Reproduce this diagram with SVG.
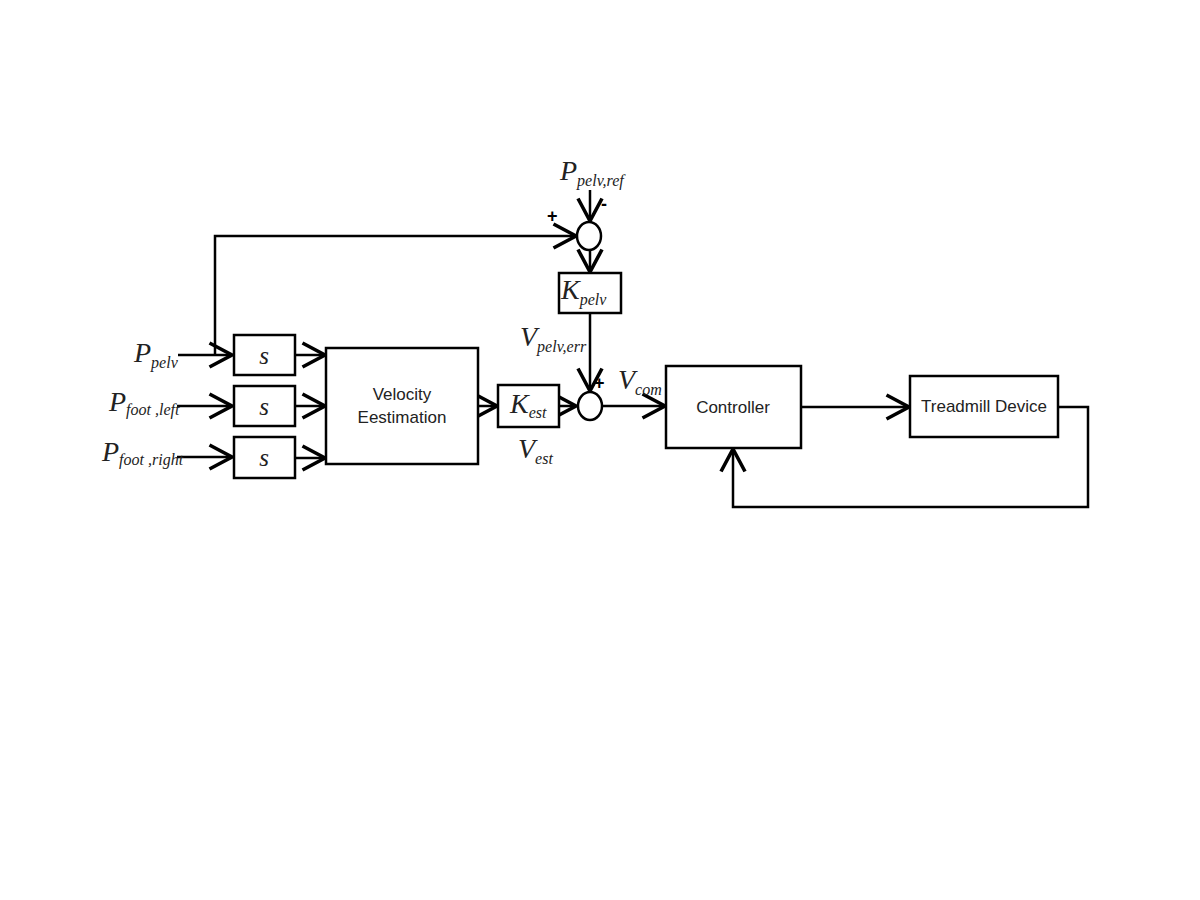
<svg xmlns="http://www.w3.org/2000/svg" width="1200" height="900" viewBox="0 0 1200 900">
<defs>
<marker id="arr" markerUnits="userSpaceOnUse" markerWidth="30" markerHeight="30" viewBox="-17 -10 20 20" refX="0" refY="0" orient="auto">
<path d="M -15 -8 L 0 0 L -15 8" fill="none" stroke="#000" stroke-width="2.4"/>
</marker>
<style>
.b{fill:#fff;stroke:#000;stroke-width:2.5}
.w{fill:none;stroke:#000;stroke-width:2.5}
.t{font-family:"Liberation Sans",Arial,sans-serif;font-size:17px;fill:#222;text-anchor:middle}
.m{font-family:"Liberation Serif","Times New Roman",serif;font-style:italic;fill:#222}
.big{font-size:28px}
.sub{font-size:16px}
.sg{font-family:"Liberation Sans",Arial,sans-serif;font-size:18px;font-weight:bold;fill:#000}
</style>
</defs>
<rect width="1200" height="900" fill="#fff"/>
<g id="connectors">
<path class="w" d="M178 355 H232" marker-end="url(#arr)"/>
<path class="w" d="M215 355 V236 H576" marker-end="url(#arr)"/>
<path class="w" d="M177 406 H232" marker-end="url(#arr)"/>
<path class="w" d="M177 457 H232" marker-end="url(#arr)"/>
<path class="w" d="M295 355 H325" marker-end="url(#arr)"/>
<path class="w" d="M295 406 H325" marker-end="url(#arr)"/>
<path class="w" d="M295 458 H325" marker-end="url(#arr)"/>
<path class="w" d="M478 406 H497" marker-end="url(#arr)"/>
<path class="w" d="M559 406 H576" marker-end="url(#arr)"/>
<path class="w" d="M590 190 V221" marker-end="url(#arr)"/>
<path class="w" d="M590 250 V272" marker-end="url(#arr)"/>
<path class="w" d="M590 313 V391" marker-end="url(#arr)"/>
<path class="w" d="M602 406 H665" marker-end="url(#arr)"/>
<path class="w" d="M801 407 H909" marker-end="url(#arr)"/>
<path class="w" d="M1058 407 H1088 V507 H733 V449" marker-end="url(#arr)"/>
</g>
<g id="s1"><rect class="b" x="234" y="335" width="61" height="40"/><text class="m" x="264" y="364" font-size="25" text-anchor="middle">s</text></g>
<g id="s2"><rect class="b" x="234" y="386" width="61" height="40"/><text class="m" x="264" y="415" font-size="25" text-anchor="middle">s</text></g>
<g id="s3"><rect class="b" x="234" y="437" width="61" height="41"/><text class="m" x="264" y="466" font-size="25" text-anchor="middle">s</text></g>
<g id="velocity"><rect class="b" x="326" y="348" width="152" height="116"/><text class="t" x="402" y="400">Velocity</text><text class="t" x="402" y="423">Eestimation</text></g>
<g id="kest"><rect class="b" x="498" y="385" width="61" height="42"/><text class="m" x="510" y="413"><tspan class="big">K</tspan><tspan class="sub" dy="5">est</tspan></text></g>
<g id="kpelv"><rect class="b" x="559" y="273" width="62" height="40"/><text class="m" x="561" y="299"><tspan class="big">K</tspan><tspan class="sub" dy="6">pelv</tspan></text></g>
<g id="sum1"><ellipse class="b" cx="589" cy="236" rx="12" ry="14"/><text class="sg" x="547" y="222">+</text><text class="sg" x="601" y="210">-</text></g>
<g id="sum2"><ellipse class="b" cx="590" cy="406" rx="12" ry="14"/><text class="sg" x="594" y="389">+</text></g>
<g id="controller"><rect class="b" x="666" y="366" width="135" height="82"/><text class="t" x="733" y="413">Controller</text></g>
<g id="treadmill"><rect class="b" x="910" y="376" width="148" height="61"/><text class="t" x="984" y="412">Treadmill Device</text></g>
<g id="labels">
<text class="m" x="134" y="362"><tspan class="big">P</tspan><tspan class="sub" dy="6">pelv</tspan></text>
<text class="m" x="109" y="411"><tspan class="big">P</tspan><tspan class="sub" dy="4">foot ,left</tspan></text>
<text class="m" x="102" y="461"><tspan class="big">P</tspan><tspan class="sub" dy="4">foot ,right</tspan></text>
<text class="m" x="560" y="180"><tspan class="big">P</tspan><tspan class="sub" dy="6">pelv,ref</tspan></text>
<text class="m" x="520" y="346"><tspan class="big">V</tspan><tspan class="sub" dy="6">pelv,err</tspan></text>
<text class="m" x="618" y="389"><tspan class="big">V</tspan><tspan class="sub" dy="6">com</tspan></text>
<text class="m" x="518" y="458"><tspan class="big">V</tspan><tspan class="sub" dy="6">est</tspan></text>
</g>
</svg>
